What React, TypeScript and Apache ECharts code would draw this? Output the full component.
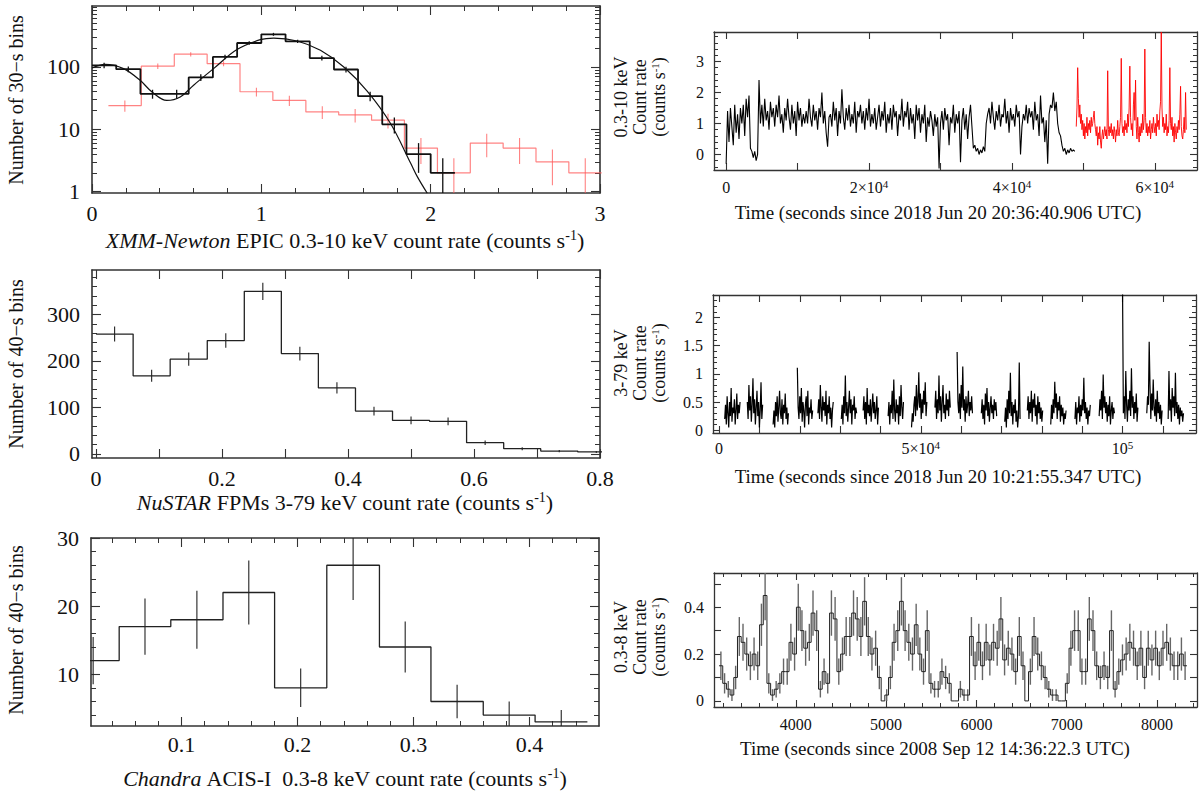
import React, { useEffect, useRef } from "react";
import * as echarts from "echarts";

const FONT = '"Liberation Serif", "Times New Roman", Times, serif';
const INK = "#111";
const FRAME = "#333";

// ---------- Panel A: XMM-Newton count-rate distribution (log y) ----------
const xmmBlackEdges = [0, 0.143, 0.286, 0.429, 0.571, 0.714, 0.857, 1.0, 1.143, 1.286, 1.429, 1.571, 1.714, 1.857, 2.0, 2.143];
const xmmBlackCounts = [106, 92, 37, 37, 68, 145, 242, 334, 258, 139, 91, 34, 12, 4, 2];
const xmmRedEdges = [0.097, 0.291, 0.486, 0.68, 0.874, 1.068, 1.263, 1.457, 1.651, 1.845, 2.04, 2.234, 2.428, 2.622, 2.816, 3.01];
const xmmRedCounts = [24, 103, 160, 113, 40, 29, 19, 17, 14, 5, 2, 6, 5, 3, 2];
const xmmModelX = [0, 0.077, 0.186, 0.284, 0.353, 0.442, 0.521, 0.6, 0.718, 0.856, 0.994, 1.073, 1.211, 1.349, 1.487, 1.625, 1.763, 1.882, 1.921, 1.98];
const xmmModelY = [96, 110, 94, 61, 40, 29, 33, 51, 94, 190, 274, 291, 261, 185, 100, 41, 12.4, 2.85, 1.74, 0.94];

// ---------- Panel B: XMM light curve ----------
const xmmLcStart = 0;
const xmmLcStep = 200;
const xmmLcBlack = [
  -0.3, 1.4, 0.4, 1.5, 0.9, 0.3, 1.6, 0.7, 1.3, 0.5, 1.5, 1.0, 1.6, 0.6, 1.8, 1.2, 1.9, 0.2, 0.1, -0.1, 0.1, -0.2, 0.0, 2.4,
  1.0, 1.6, 0.9, 1.8, 1.1, 1.4, 0.8, 1.7, 1.2, 1.5,
  0.9, 1.6, 1.2, 1.9, 1.0, 1.3, 0.7, 1.5, 1.1, 1.8,
  1.2, 0.8, 1.6, 1.0, 1.4, 0.6, 1.7, 1.1, 1.5, 0.9,
  1.3, 1.0, 1.4, 1.0, 1.8, 1.2, 0.9, 1.6, 1.1, 1.4,
  0.8, 1.5, 1.2, 2.0, 1.0, 1.4, 0.7, 0.25, 1.2, 1.3,
  0.9, 1.7, 1.1, 1.5, 0.6, 1.4, 1.0, 2.1, 1.2, 0.8,
  1.5, 1.1, 1.6, 0.9, 1.3, 1.0, 1.7, 0.7, 1.4, 1.2,
  1.6, 1.0, 1.4, 0.8, 1.5, 1.1, 1.8, 0.9, 1.3, 1.0,
  1.5, 0.8, 1.2, 1.6, 0.9, 1.4, 1.1, 1.7, 0.7, 1.3,
  1.0, 1.5, 0.8, 1.6, 1.2, 1.4, 0.6, 1.3, 1.1, 1.8,
  0.9, 1.4, 1.2, 1.7, 0.8, 1.5, 1.0, 1.3, 0.5, 1.6,
  1.1, 1.5, 0.7, 1.3, 1.0, 1.6, 0.4, 1.2, 0.9, 1.4,
  1.1, 0.6, 1.3, 0.9, 1.2, -0.45, 1.0, 1.4, 0.8, 1.5,
  1.1, 1.3, 0.3, 1.2, 1.0, 1.6, 0.7, 1.3, 1.0, 1.4,
  -0.25, 1.1, 1.5, 0.8, 1.3, 0.5, 1.2, 1.6, 0.9, 0.2,
  0.3, 0.1, 0.2, 0.0, 0.15, 0.05, 0.25, 0.1, 1.0, 1.3,
  1.5, 1.0, 1.7, 1.2, 0.8, 1.4, 1.1, 1.6, 0.9, 1.3,
  1.2, 1.8, 1.0, 1.4, 0.7, 1.5, 1.1, 1.3, 0.9, 1.6,
  1.2, 1.4, 0.0, 0.9, 1.3, 1.1, 1.6, 1.0, 1.5, 1.2,
  1.4, 0.8, 1.7, 1.1, 1.3, 0.6, 1.9, 1.0, 1.2, 0.4,
  1.1, -0.3, 1.3, 1.6, 1.5, 2.0, 1.4, 1.7, 1.0, 0.7,
  0.6, 0.3, 0.1, 0.2, 0.0, 0.15, 0.05, 0.2, 0.1, 0.15,
  0.1,
];
const xmmLcRedStart = 49000;
const xmmLcRedStep = 100;
const xmmLcRed = [
  0.9, 1.5, 2.8, 1.8, 1.2, 1.6, 1.0, 1.3, 0.8, 1.1,
  0.6, 1.0, 0.5, 0.9, 0.7, 1.2, 0.6, 1.0, 0.8, 1.1,
  0.7, 1.2, 0.9, 1.0, 1.2, 1.4, 1.0, 0.8, 0.6, 0.9,
  0.3, 0.7, 0.5, 0.9, 0.4, 0.2, 0.6, 0.8, 0.5, 0.7,
  0.9, 0.6, 0.8, 0.5, 2.7, 0.8, 0.6, 0.9, 0.7, 1.0,
  0.6, 0.8, 0.5, 0.9, 0.7, 0.4, 0.8, 0.6, 1.1, 0.7,
  0.6, 0.9, 1.2, 3.1, 1.0, 0.7, 0.9, 0.6, 1.1, 0.8,
  1.0, 0.7, 1.3, 0.9, 1.5, 2.85, 1.2, 0.8, 1.0, 0.6,
  1.6, 2.0, 1.1, 2.4, 0.9, 0.5, 1.2, 0.7, 0.4, 0.9,
  0.6, 1.0, 0.7, 1.3, 0.8, 1.1, 3.4, 1.2, 0.7, 1.0,
  0.6, 0.9, 0.7, 1.1, 0.5, 0.8, 1.0, 0.7, 1.2, 0.9,
  0.7, 1.0, 0.6, 1.3, 0.9, 1.1, 0.8, 1.4, 1.7, 3.95,
  1.5, 0.9, 1.2, 0.7, 1.0, 0.8, 1.3, 0.6, 0.9, 0.7,
  1.1, 2.8, 1.0, 0.8, 1.2, 0.6, 0.9, 0.4, 1.0, 0.7,
  0.5, 0.9, 0.7, 1.1, 0.8, 1.3, 2.2, 0.9, 0.6, 0.5,
  0.8, 1.2, 0.7, 2.0, 0.8,
];

// ---------- Panel C: NuSTAR count-rate distribution ----------
const nuEdges = [0, 0.0588, 0.1176, 0.1765, 0.2353, 0.2941, 0.3529, 0.4118, 0.4706, 0.5294, 0.5882, 0.6471, 0.7059, 0.7647, 0.8235];
const nuCounts = [258, 168, 204, 244, 350, 216, 142, 92, 72, 70, 24, 11, 6, 4];

// ---------- Panel D: NuSTAR light curve (orbit segments) ----------
const nuLcStep = 200;
const nuLcStarts = [1400, 7000, 13400, 19400, 24500, 30300, 35700, 41900, 47700, 53500, 59000, 65000, 70800, 76400, 82200, 88200, 94200, 100000, 106000, 111300];
const nuLcSegs = [
  [0.2, 0.45, 0.1, 0.6, 0.3, 0.05, 0.5, 0.25, 0.75, 0.15, 0.4, 0.3, 0.55, 0.1, 0.35, 0.65, 0.2, 0.45, 0.3, 0.5],
  [0.5, 0.2, 0.8, 0.35, 0.6, 0.15, 0.45, 0.92, 0.3, 0.55, 0.1, 0.4, 0.7, 0.25, 0.5, 0.05, 0.35, 0.85, 0.2, 0.45],
  [0.1, 0.35, 0.05, 0.5, 0.25, 0.6, 0.15, 0.4, 0.7, 0.3, 0.2, 0.55, 0.1, 0.45, 0.3, 0.65, 0.2, 0.4, 0.1, 0.3],
  [1.11, 0.4, 0.2, 0.6, 0.3, 0.75, 0.15, 0.5, 0.35, 0.05, 0.45, 0.6, 0.25, 0.7, 0.1, 0.4, 0.3, 0.55, 0.2, 0.35],
  [0.3, 0.55, 0.2, 0.8, 0.4, 0.15, 0.6, 0.35, 0.5, 0.25, 0.7, 0.1, 0.45, 0.3, 0.6, 0.2, 0.4, 0.05, 0.35, 0.5],
  [0.2, 0.45, 0.1, 0.6, 0.3, 0.97, 0.25, 0.5, 0.15, 0.4, 0.7, 0.3, 0.55, 0.1, 0.45, 0.35, 0.6, 0.2, 0.4, 0.3],
  [0.35, 0.6, 0.2, 0.5, 0.1, 0.75, 0.3, 0.45, 0.25, 0.55, 0.15, 0.4, 0.65, 0.3, 0.5, 0.2, 0.35, 0.6, 0.1, 0.4],
  [0.25, 0.5, 0.1, 0.45, 0.3, 0.7, 0.2, 0.9, 0.35, 0.15, 0.55, 0.3, 0.45, 0.1, 0.6, 0.25, 0.8, 0.4, 0.2, 0.5],
  [0.05, 0.3, 0.15, 0.45, 0.6, 0.25, 0.8, 0.35, 0.5, 1.03, 0.4, 0.65, 0.2, 0.55, 0.3, 0.7, 0.45, 0.85, 0.25, 0.5],
  [0.4, 0.7, 0.2, 0.55, 0.3, 0.97, 0.35, 0.6, 0.15, 0.5, 0.8, 0.3, 0.45, 0.2, 0.65, 0.35, 0.55, 0.25, 0.7, 0.4],
  [1.39, 0.5, 0.3, 0.65, 0.2, 0.8, 0.4, 1.13, 0.35, 0.55, 0.15, 0.6, 0.3, 0.45, 0.7, 0.25, 0.5, 0.35, 0.6, 0.3],
  [0.3, 0.55, 0.2, 0.45, 0.1, 0.65, 0.35, 0.75, 0.25, 0.5, 0.15, 0.4, 0.6, 0.3, 0.45, 0.2, 0.55, 0.35, 0.5, 0.25],
  [0.15, 0.4, 0.05, 0.55, 0.2, 0.7, 0.3, 1.02, 0.25, 0.5, 0.1, 0.45, 0.3, 0.55, 0.15, 0.35, 0.05, 0.25, 1.2, 0.2],
  [0.35, 0.6, 0.2, 0.5, 0.3, 0.7, 0.15, 0.55, 0.4, 0.65, 0.25, 0.45, 0.1, 0.6, 0.3, 0.5, 0.2, 0.4, 0.15, 0.35],
  [0.1, 0.45, 0.2, 0.55, 0.3, 0.86, 0.4, 0.65, 0.2, 0.5, 0.35, 0.6, 0.15, 0.45, 0.25, 0.4, 0.1, 0.3, 0.2, 0.35],
  [0.2, 0.5, 0.1, 0.4, 0.3, 0.6, 0.15, 0.45, 0.25, 0.55, 0.35, 0.93, 0.3, 0.5, 0.2, 0.4, 0.1, 0.35, 0.25, 0.45],
  [0.25, 0.55, 0.35, 0.7, 0.2, 0.99, 0.4, 0.6, 0.3, 0.5, 0.15, 0.45, 0.25, 0.6, 0.1, 0.35, 0.5, 0.2, 0.4, 0.3],
  [2.45, 0.3, 0.6, 0.2, 1.05, 0.45, 0.15, 0.55, 0.35, 0.7, 0.25, 1.1, 0.4, 0.6, 0.2, 0.5, 0.3, 0.65, 0.15, 0.4],
  [0.3, 0.6, 0.45, 1.57, 0.8, 0.2, 0.65, 0.35, 0.9, 0.4, 0.25, 0.55, 0.15, 0.7, 0.3, 0.5, 0.2, 0.45, 0.1, 0.35],
  [0.2, 1.05, 0.35, 0.55, 0.15, 0.75, 0.4, 0.6, 0.25, 1.02, 0.3, 0.5, 0.2, 0.45, 0.1, 0.4, 0.25, 0.35, 0.15, 0.3],
];

// ---------- Panel E: Chandra count-rate distribution ----------
const chEdges = [0.0014, 0.0463, 0.0908, 0.1358, 0.1803, 0.2253, 0.2707, 0.3151, 0.3602, 0.4049, 0.45];
const chCounts = [12, 17, 18, 22, 8, 26, 14, 6, 4, 3];

// ---------- Panel F: Chandra light curve ----------
const chLcStart = 3150;
const chLcBin = 40.8;
const chLcExposure = 40;
const chLcRate = [
  0.15, 0.075, 0.05, 0.025, 0.1, 0.275, 0.25, 0.2, 0.15, 0.2,
  0.15, 0.325, 0.45, 0.075, 0.025, 0.05, 0.075, 0.125, 0.125, 0.25,
  0.2, 0.4, 0.3, 0.225, 0.25, 0.375, 0.3, 0.05, 0.125, 0.075,
  0.375, 0.35, 0.125, 0.2, 0.275, 0.275, 0.375, 0.35, 0.275, 0.425,
  0.275, 0.2, 0.225, 0.1, 0.0, 0.025, 0.1, 0.25, 0.3, 0.425,
  0.3, 0.25, 0.2, 0.325, 0.2, 0.125, 0.3, 0.075, 0.05, 0.05,
  0.125, 0.1, 0.075, 0.0, 0.0, 0.05, 0.025, 0.025, 0.275, 0.15,
  0.25, 0.15, 0.25, 0.175, 0.25, 0.225, 0.35, 0.175, 0.225, 0.2,
  0.125, 0.275, 0.15, 0.0, 0.125, 0.275, 0.2, 0.15, 0.1, 0.05,
  0.025, 0.025, 0.0, 0.0, 0.075, 0.225, 0.3, 0.3, 0.125, 0.125,
  0.35, 0.3, 0.15, 0.1, 0.15, 0.1, 0.3, 0.05, 0.125, 0.175,
  0.2, 0.25, 0.225, 0.15, 0.225, 0.1, 0.225, 0.175, 0.225, 0.15,
  0.225, 0.25, 0.2, 0.15, 0.15, 0.2, 0.15,
];

// ---------- helpers ----------
function tickList(from: number, to: number, step: number, skip: number[] = []) {
  const out: number[] = [];
  for (let k = 0; k < 10000; k++) {
    const v = +(from + k * step).toFixed(6);
    if (v > to + 1e-9) break;
    if (!skip.some((s) => Math.abs(s - v) < 1e-9)) out.push(v);
  }
  return out;
}
function logMinor(decades: number[]) {
  const out: number[] = [];
  decades.forEach((d) => {
    for (let m = 2; m <= 9; m++) out.push(m * d);
  });
  return out;
}
function stepPts(edges: number[], vals: number[]) {
  const pts: number[][] = [];
  vals.forEach((v, i) => {
    pts.push([edges[i], v], [edges[i + 1], v]);
  });
  return pts;
}
function poissonBars(edges: number[], vals: number[]) {
  return vals.map((v, i) => {
    const c = (edges[i] + edges[i + 1]) / 2;
    const e = Math.sqrt(v);
    return [c, v - e, v + e];
  });
}

const SUP_SMALL = { fontSize: 11, lineHeight: 10, verticalAlign: "top", fontFamily: FONT, color: INK };

function axes(grid: number, dim: "x" | "y", s: any) {
  const sides = dim === "x" ? ["bottom", "top"] : ["left", "right"];
  const list: any[] = [];
  sides.forEach((pos, k) => {
    const common = {
      gridIndex: grid,
      type: s.type || "value",
      min: s.min,
      max: s.max,
      position: pos,
      splitLine: { show: false },
      silent: true,
    };
    list.push({
      ...common,
      axisLine: { show: true, onZero: false, lineStyle: { color: FRAME, width: s.lineW || 1.4 } },
      axisTick: { show: true, inside: true, length: s.majorLen, customValues: s.major, lineStyle: { color: FRAME, width: 1.1 } },
      axisLabel:
        k === 0
          ? {
              show: true,
              customValues: s.labels,
              formatter: s.fmt || ((v: number) => String(v)),
              margin: s.margin,
              fontSize: s.fontSize,
              fontFamily: FONT,
              color: INK,
              lineHeight: s.fontSize + 2,
              rich: { sup: SUP_SMALL },
            }
          : { show: false },
    });
    list.push({
      ...common,
      axisLine: { show: false, onZero: false },
      axisTick: { show: true, inside: true, length: s.minorLen, customValues: s.minor, lineStyle: { color: FRAME, width: 1 } },
      axisLabel: { show: false },
    });
  });
  return list;
}

function errSeries(axis: number, pts: number[][], color: string, width: number, z = 3) {
  return {
    type: "custom",
    xAxisIndex: axis,
    yAxisIndex: axis,
    data: pts,
    encode: { x: 0, y: [1, 2] },
    z,
    silent: true,
    renderItem: (params: any, api: any) => {
      const cs = params.coordSys;
      const x = api.value(0);
      const lo = api.value(1);
      const hi = api.value(2);
      const a = api.coord([x, hi]);
      const b = api.coord([x, lo]);
      const clampY = (y: number) =>
        Math.max(cs.y, Math.min(cs.y + cs.height, isFinite(y) ? y : cs.y + cs.height));
      if (a[0] < cs.x - 0.5 || a[0] > cs.x + cs.width + 0.5) return null;
      return {
        type: "line",
        shape: { x1: a[0], y1: clampY(a[1]), x2: a[0], y2: clampY(b[1]) },
        style: { stroke: color, lineWidth: width },
      };
    },
  };
}

function lineSeries(axis: number, data: any[], color: string, width: number, extra: any = {}) {
  return {
    type: "line",
    xAxisIndex: axis,
    yAxisIndex: axis,
    data,
    symbol: "none",
    showSymbol: false,
    connectNulls: false,
    clip: true,
    silent: true,
    lineStyle: { color, width },
    itemStyle: { color },
    z: 4,
    ...extra,
  };
}

function title(x: number, y: number, text: string, size: number, rotate = false, lh?: number) {
  const supSize = Math.round(size * 0.62);
  return {
    type: "text",
    x,
    y,
    rotation: rotate ? Math.PI / 2 : 0,
    silent: true,
    style: {
      text,
      fontSize: size,
      fontFamily: FONT,
      fill: INK,
      align: "center",
      verticalAlign: "middle",
      textAlign: "center",
      textVerticalAlign: "middle",
      lineHeight: lh || size + 2,
      rich: {
        i: { fontStyle: "italic", fontSize: size, fontFamily: FONT, fill: INK, color: INK, lineHeight: lh || size + 2 },
        n: { fontSize: size, fontFamily: FONT, fill: INK, color: INK, lineHeight: lh || size + 2 },
        sup: { fontSize: supSize, fontFamily: FONT, fill: INK, color: INK, lineHeight: supSize, verticalAlign: "top" },
      },
    },
  };
}

const sci4 = (v: number) => (v === 0 ? "0" : `${v / 1e4}×10{sup|4}`);
const sciNu = (v: number) => (v === 0 ? "0" : v === 1e5 ? "10{sup|5}" : `${v / 1e4}×10{sup|4}`);

export default function App() {
  const ref = useRef<HTMLDivElement>(null);

  useEffect(() => {
    document.body.style.margin = "0";
    if (!ref.current) return;
    const chart = echarts.init(ref.current, undefined, { renderer: "svg" });

    const L = { fontSize: 22, majorLen: 9, minorLen: 5, margin: 8, lineW: 1.6 };
    const R = { fontSize: 16, majorLen: 7, minorLen: 4, margin: 8, lineW: 1.3 };

    const specs = [
      {
        x: { ...L, min: 0, max: 3, major: [0, 1, 2, 3], minor: tickList(0, 3, 0.2, [0, 1, 2, 3]), labels: [0, 1, 2, 3] },
        y: {
          ...L, margin: 12, type: "log", min: 0.95, max: 950, major: [1, 10, 100], minor: logMinor([1, 10, 100]),
          labels: [1, 10, 100], fmt: (v: number) => String(Math.round(v)),
        },
      },
      {
        x: { ...R, min: -1700, max: 65900, major: tickList(0, 60000, 10000), minor: [], labels: [0, 20000, 40000, 60000], fmt: sci4 },
        y: { ...R, margin: 10, min: -0.5, max: 3.95, major: [0, 1, 2, 3], minor: tickList(-0.4, 3.8, 0.2, [0, 1, 2, 3]), labels: [0, 1, 2, 3] },
      },
      {
        x: { ...L, min: -0.0065, max: 0.8, major: tickList(0, 0.8, 0.1), minor: [], labels: [0, 0.2, 0.4, 0.6, 0.8] },
        y: { ...L, margin: 12, min: -9, max: 396, major: [0, 100, 200, 300], minor: tickList(20, 380, 20, [100, 200, 300]), labels: [0, 100, 200, 300] },
      },
      {
        x: { ...R, margin: 6, min: -1500, max: 118200, major: tickList(0, 110000, 10000), minor: [], labels: [0, 50000, 100000], fmt: sciNu },
        y: { ...R, margin: 10, min: -0.05, max: 2.4, major: [0, 0.5, 1, 1.5, 2], minor: tickList(0.1, 2.3, 0.1, [0.5, 1, 1.5, 2]), labels: [0, 0.5, 1, 1.5, 2] },
      },
      {
        x: { ...L, margin: 6, min: 0.022, max: 0.46, major: [0.1, 0.2, 0.3, 0.4], minor: tickList(0.04, 0.44, 0.02, [0.1, 0.2, 0.3, 0.4]), labels: [0.1, 0.2, 0.3, 0.4] },
        y: { ...L, margin: 12, min: 2.4, max: 30, major: [10, 20, 30], minor: tickList(4, 28, 2, [10, 20]), labels: [10, 20, 30] },
      },
      {
        x: { ...R, min: 3094, max: 8443, major: [4000, 5000, 6000, 7000, 8000], minor: tickList(3200, 8400, 200, [4000, 5000, 6000, 7000, 8000]), labels: [4000, 5000, 6000, 7000, 8000] },
        y: { ...R, margin: 10, min: -0.026, max: 0.546, major: tickList(0, 0.5, 0.1), minor: [], labels: [0, 0.2, 0.4] },
      },
    ];

    const grids = [
      { left: 92, top: 6, width: 508, height: 187 },
      { left: 714, top: 32, width: 483, height: 138 },
      { left: 92, top: 270, width: 508, height: 188 },
      { left: 713, top: 295, width: 483, height: 138 },
      { left: 91, top: 538, width: 508, height: 188 },
      { left: 714, top: 573, width: 483, height: 134 },
    ];

    const xAxis: any[] = [];
    const yAxis: any[] = [];
    specs.forEach((s, g) => {
      xAxis.push(...axes(g, "x", s.x));
      yAxis.push(...axes(g, "y", s.y));
    });

    const modelPts = xmmModelX.map((x, i) => [x, xmmModelY[i]]);
    const lcBlack = xmmLcBlack.map((v, i) => [xmmLcStart + i * xmmLcStep, v]);
    const lcRed = xmmLcRed.map((v, i) => [xmmLcRedStart + i * xmmLcRedStep, v]);
    const nuLc: any[] = [];
    nuLcSegs.forEach((seg, s) => {
      seg.forEach((v, i) => nuLc.push([nuLcStarts[s] + i * nuLcStep, v]));
      nuLc.push([nuLcStarts[s] + seg.length * nuLcStep, null]);
    });
    const chLcEdges = chLcRate.map((_, i) => chLcStart + i * chLcBin).concat([chLcStart + chLcRate.length * chLcBin]);
    const chLcErr = chLcRate.map((v, i) => {
      const e = Math.sqrt(v * chLcExposure) / chLcExposure;
      return [(chLcEdges[i] + chLcEdges[i + 1]) / 2, v - e, v + e];
    });

    const series: any[] = [
      lineSeries(0, stepPts(xmmRedEdges, xmmRedCounts), "rgba(255,90,90,0.75)", 1.2),
      errSeries(0, poissonBars(xmmRedEdges, xmmRedCounts), "rgba(255,90,90,0.75)", 1.1),
      lineSeries(0, stepPts(xmmBlackEdges, xmmBlackCounts), "#111", 1.8, { z: 5 }),
      errSeries(0, poissonBars(xmmBlackEdges, xmmBlackCounts), "#111", 1.3, 5),
      lineSeries(0, modelPts, "#111", 1.2, { smooth: 0.35, z: 6 }),
      lineSeries(4, lcBlack, "#000", 1.1),
      lineSeries(4, lcRed, "#ff0000", 0.9),
      lineSeries(8, stepPts(nuEdges, nuCounts), "#222", 1.3),
      errSeries(8, poissonBars(nuEdges, nuCounts), "#222", 1.1),
      lineSeries(12, nuLc, "#000", 1.2),
      lineSeries(16, stepPts(chEdges, chCounts), "#222", 1.3),
      errSeries(16, poissonBars(chEdges, chCounts), "#222", 1.1),
      errSeries(20, chLcErr, "#666", 1.4, 3),
      lineSeries(20, stepPts(chLcEdges, chLcRate), "#222", 1.0),
    ];

    const graphic = [
      title(16, 100, "Number of 30−s bins", 20, true),
      title(345, 240, "{i|XMM-Newton}{n| EPIC 0.3-10 keV count rate (counts s}{sup|-1}{n|)}", 22),
      title(640, 97, "{n|0.3-10 keV}\n{n|Count rate}\n{n|(counts s}{sup|-1}{n|)}", 18, true, 19),
      title(938, 212, "Time (seconds since 2018 Jun 20 20:36:40.906 UTC)", 19),

      title(16, 364, "Number of 40−s bins", 20, true),
      title(345, 502, "{i|NuSTAR}{n| FPMs 3-79 keV count rate (counts s}{sup|-1}{n|)}", 22),
      title(640, 363, "{n|3-79 keV}\n{n|Count rate}\n{n|(counts s}{sup|-1}{n|)}", 18, true, 19),
      title(938, 476, "Time (seconds since 2018 Jun 20 10:21:55.347 UTC)", 19),

      title(16, 630, "Number of 40−s bins", 20, true),
      title(345, 778, "{i|Chandra}{n| ACIS-I  0.3-8 keV count rate (counts s}{sup|-1}{n|)}", 22),
      title(640, 637, "{n|0.3-8 keV}\n{n|Count rate}\n{n|(counts s}{sup|-1}{n|)}", 18, true, 19),
      title(935, 748, "Time (seconds since 2008 Sep 12 14:36:22.3 UTC)", 19),
    ];

    chart.setOption({
      animation: false,
      backgroundColor: "#fff",
      textStyle: { fontFamily: FONT },
      grid: grids.map((g) => ({ ...g, containLabel: false, outerBoundsMode: "none" })),
      xAxis,
      yAxis,
      series,
      graphic,
    });

    return () => {
      chart.dispose();
    };
  }, []);

  return <div ref={ref} style={{ width: 1200, height: 794 }} />;
}
